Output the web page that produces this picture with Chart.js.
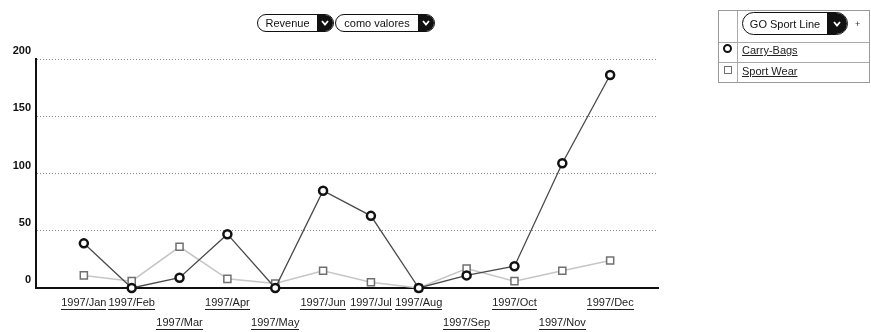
<!DOCTYPE html>
<html>
<head>
<meta charset="utf-8">
<script src="https://cdn.jsdelivr.net/npm/chart.js@4/dist/chart.umd.min.js"></script>
<style>
  html, body { margin: 0; padding: 0; background: #fff; }
  #wrap { position: relative; width: 871px; height: 332px; overflow: hidden;
          font-family: "Liberation Sans", Arial, sans-serif; color: #111; }
  #chart { position: absolute; left: 0; top: 0; }
  .pill { position: absolute; box-sizing: border-box; border: 1.5px solid #111; background: #fff;
          display: flex; align-items: stretch; overflow: hidden; font-size: 11px; color: #111; }
  .pill .txt { flex: 1; display: flex; align-items: center; justify-content: center; white-space: nowrap; }
  .pill .btn { background: #111; display: flex; align-items: center; justify-content: center; }
  .legend { position: absolute; left: 718px; top: 10px; width: 152px; height: 73px;
            box-sizing: border-box; border: 1px solid #9a9a9a; }
  .hline { position: absolute; left: 0; right: 0; height: 0; border-top: 1px solid #aaa; }
  .vline { position: absolute; top: 0; bottom: 0; width: 0; border-left: 1px solid #aaa; }
  .item { position: absolute; left: 23px; font-size: 11px; text-decoration: underline; color: #222; line-height: 12px; }
  .plus { position: absolute; left: 136px; top: 8px; font-size: 9px; color: #333; }
  .mk-circle { position: absolute; left: 4px; width: 9px; height: 9px; box-sizing: border-box;
               border: 2.5px solid #111; border-radius: 50%; background: #fff; }
  .mk-rect { position: absolute; left: 5px; width: 8px; height: 8px; box-sizing: border-box;
             border: 1.5px solid #707070; background: #fff; }
</style>
</head>
<body>
<div id="wrap">
  <canvas id="chart" width="871" height="332"></canvas>

  <div class="pill" style="left:257px;top:14px;width:77px;height:18px;border-radius:9px;">
    <span class="txt">Revenue</span>
    <span class="btn" style="width:16px;"><svg width="10" height="8" viewBox="0 0 10 8"><polyline points="2,2 5,5.5 8,2" fill="none" stroke="#fff" stroke-width="1.8"/></svg></span>
  </div>
  <div class="pill" style="left:335px;top:14px;width:100px;height:18px;border-radius:9px;">
    <span class="txt">como valores</span>
    <span class="btn" style="width:16px;"><svg width="10" height="8" viewBox="0 0 10 8"><polyline points="2,2 5,5.5 8,2" fill="none" stroke="#fff" stroke-width="1.8"/></svg></span>
  </div>

  <div class="legend">
    <div class="hline" style="top:31px;"></div>
    <div class="hline" style="top:51px;"></div>
    <div class="vline" style="left:18px;"></div>
    <div class="pill" style="left:23px;top:1px;width:106px;height:23px;border-radius:12px;">
      <span class="txt">GO Sport Line</span>
      <span class="btn" style="width:20px;"><svg width="10" height="8" viewBox="0 0 10 8"><polyline points="2,2 5,5.5 8,2" fill="none" stroke="#fff" stroke-width="1.8"/></svg></span>
    </div>
    <div class="plus">+</div>
    <div class="mk-circle" style="top:33px;"></div>
    <div class="item" style="top:33px;">Carry-Bags</div>
    <div class="mk-rect" style="top:55px;"></div>
    <div class="item" style="top:54px;">Sport Wear</div>
  </div>
</div>

<script>
// Monthly revenue for the GO Sport Line product lines, 1997
const months = ['1997/Jan', '1997/Feb', '1997/Mar', '1997/Apr', '1997/May', '1997/Jun',
                '1997/Jul', '1997/Aug', '1997/Sep', '1997/Oct', '1997/Nov', '1997/Dec'];
const carryBags = [39, 0, 9, 47, 0, 85, 63, 0, 11, 19, 109, 186];
const sportWear = [11, 6, 36, 8, 4, 15, 5, 0, 17, 6, 15, 24];
const yTicks = [0, 50, 100, 150, 200];
// month labels that sit on the second label row
const lowerRow = ['1997/Mar', '1997/May', '1997/Sep', '1997/Nov'];

const TICK_FONT = { family: '"Liberation Sans", Arial, sans-serif', size: 11, lineHeight: '20px' };
const X_PAD = 5;
const LINE_H = 20;

// underline the month labels like hyperlinks
const underlineTicks = {
  id: 'underlineTicks',
  afterDraw(chart) {
    const xs = chart.scales.x;
    const ctx = chart.ctx;
    ctx.save();
    ctx.font = TICK_FONT.size + 'px ' + TICK_FONT.family;
    ctx.strokeStyle = '#222';
    ctx.lineWidth = 1;
    xs.ticks.forEach((t) => {
      const label = months[t.value - 1];
      if (!label) return;
      const row = lowerRow.includes(label) ? 1 : 0;
      const x = xs.getPixelForValue(t.value);
      const yc = xs.top + X_PAD + LINE_H * (row + 0.5);
      const w = ctx.measureText(label).width;
      const y = Math.round(yc + 6) + 0.5;
      ctx.beginPath();
      ctx.moveTo(Math.round(x - w / 2), y);
      ctx.lineTo(Math.round(x + w / 2), y);
      ctx.stroke();
    });
    ctx.restore();
  }
};

new Chart(document.getElementById('chart'), {
  type: 'line',
  data: {
    datasets: [
      {
        label: 'Carry-Bags',
        data: carryBags.map((v, i) => ({ x: i + 1, y: v })),
        borderColor: '#4a4a4a',
        borderWidth: 1.3,
        pointStyle: 'circle',
        pointRadius: 4,
        pointBorderWidth: 2.5,
        pointBorderColor: '#111',
        pointBackgroundColor: '#fff',
        tension: 0,
        clip: false
      },
      {
        label: 'Sport Wear',
        data: sportWear.map((v, i) => ({ x: i + 1, y: v })),
        borderColor: '#c6c6c6',
        borderWidth: 1.5,
        pointStyle: 'rect',
        pointRadius: 5,
        pointBorderWidth: 1.5,
        pointBorderColor: '#707070',
        pointBackgroundColor: '#fff',
        tension: 0,
        clip: false
      }
    ]
  },
  options: {
    responsive: false,
    animation: false,
    events: [],
    layout: { padding: { left: 0, top: 59, right: 213, bottom: 0 } },
    plugins: { legend: { display: false }, tooltip: { enabled: false } },
    scales: {
      x: {
        type: 'linear',
        min: 0,
        max: 13,
        afterBuildTicks: (scale) => { scale.ticks = months.map((_, i) => ({ value: i + 1 })); },
        afterFit: (scale) => { scale.height = 44; },
        grid: { display: false, drawTicks: false },
        border: { display: true, color: '#111', width: 2 },
        ticks: {
          autoSkip: false,
          maxRotation: 0,
          minRotation: 0,
          padding: X_PAD,
          color: '#222',
          font: TICK_FONT,
          callback: (v) => {
            const label = months[v - 1];
            if (!label) return '';
            return lowerRow.includes(label) ? ['', label] : label;
          }
        }
      },
      y: {
        min: 0,
        max: 200,
        afterBuildTicks: (scale) => { scale.ticks = yTicks.map((v) => ({ value: v })); },
        afterFit: (scale) => { scale.width = 36; },
        grid: {
          drawTicks: false,
          lineWidth: 1,
          color: (c) => (c.tick && c.tick.value === 0 ? 'rgba(0,0,0,0)' : '#8a8a8a')
        },
        border: { display: true, color: '#111', width: 2, dash: [1, 2] },
        ticks: {
          padding: 5,
          labelOffset: -8,
          color: '#111',
          font: { family: '"Liberation Sans", Arial, sans-serif', size: 11, weight: 'bold' }
        }
      }
    }
  },
  plugins: [underlineTicks]
});
</script>
</body>
</html>
